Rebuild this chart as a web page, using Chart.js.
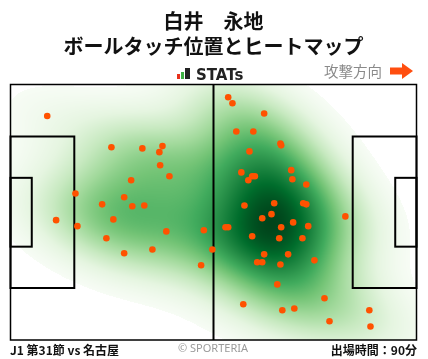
<!DOCTYPE html>
<html>
<head>
<meta charset="utf-8">
<script src="https://cdn.jsdelivr.net/npm/chart.js@4"></script>
<style>
  html, body { margin: 0; padding: 0; background: #fff; }
  #wrap { width: 428px; height: 359px; position: relative; }
</style>
</head>
<body>
<div id="wrap"><canvas id="pitch"></canvas></div>
<script>
// touch positions in metres (x: 0-105 own goal -> opponent goal, y: 0-68 bottom -> top)
const touchX = [9.5, 26.1, 34.1, 39.3, 38.5, 38.7, 41.1, 31.2, 16.8, 29.4, 23.7, 31.5, 34.6, 11.8, 26.6,
  17.3, 24.8, 40.3, 50.0, 29.4, 36.7, 52.2, 49.3, 56.3, 57.4, 65.6, 58.4, 62.8, 69.8, 70.0,
  61.8, 59.7, 72.6, 62.5, 63.2, 61.5, 72.9, 76.5, 60.5, 68.2, 75.7, 76.5, 65.1, 67.5, 86.6,
  73.1, 55.6, 56.3, 70.0, 77.0, 62.5, 69.5, 75.5, 65.6, 71.8, 63.8, 65.1, 69.8, 78.6, 69.0,
  81.2, 60.2, 70.3, 73.4, 92.8, 82.5, 93.1]
const touchY = [59.6, 51.3, 51.0, 51.6, 50.0, 46.5, 43.6, 42.5, 39.0, 38.0, 36.1, 35.6, 35.8, 31.9, 32.1,
  30.3, 27.1, 28.9, 29.2, 23.1, 24.1, 24.1, 19.9, 64.6, 63.0, 60.3, 55.5, 55.5, 52.3, 51.8,
  50.2, 44.6, 45.2, 43.6, 43.6, 42.5, 42.8, 41.4, 35.8, 36.4, 36.4, 36.1, 32.4, 33.5, 32.9,
  31.3, 30.0, 30.0, 30.0, 30.3, 27.6, 27.1, 27.1, 22.8, 22.8, 20.7, 20.7, 20.1, 21.2, 14.8,
  11.1, 9.5, 7.9, 8.4, 7.9, 5.0, 3.6]

const titleLines = ['白井　永地', 'ボールタッチ位置とヒートマップ']
const matchLabel = 'J1 第31節 vs 名古屋'
const minutesLabel = '出場時間：90分'

// matplotlib "Greens"
const greens = ['#f7fcf5', '#e5f5e0', '#c7e9c0', '#a1d99b', '#74c476', '#41ab5d', '#238b45', '#006d2c', '#00441b']
  .map(h => [parseInt(h.slice(1, 3), 16), parseInt(h.slice(3, 5), 16), parseInt(h.slice(5, 7), 16)])

const greenAt = function (t) {
  const p = Math.min(Math.max(t, 0), 1) * (greens.length - 1)
  const i = Math.min(Math.floor(p), greens.length - 2)
  const f = p - i
  const a = greens[i], b = greens[i + 1]
  return [a[0] + (b[0] - a[0]) * f, a[1] + (b[1] - a[1]) * f, a[2] + (b[2] - a[2]) * f]
}

// gaussian kde like scipy (scott factor, full covariance), bw adjusted
const makeKde = function (xs, ys, adjust) {
  const n = xs.length
  const mx = xs.reduce((s, v) => s + v, 0) / n
  const my = ys.reduce((s, v) => s + v, 0) / n
  let sxx = 0, syy = 0, sxy = 0
  for (let i = 0; i < n; i++) {
    sxx += (xs[i] - mx) ** 2
    syy += (ys[i] - my) ** 2
    sxy += (xs[i] - mx) * (ys[i] - my)
  }
  const f2 = Math.pow(n, -1 / 3) * adjust * adjust
  const a = sxx / (n - 1) * f2, d = syy / (n - 1) * f2, b = sxy / (n - 1) * f2
  const det = a * d - b * b
  const ia = d / det, id = a / det, ib = -b / det
  return function (x, y) {
    let s = 0
    for (let i = 0; i < n; i++) {
      const dx = x - xs[i], dy = y - ys[i]
      s += Math.exp(-0.5 * (ia * dx * dx + 2 * ib * dx * dy + id * dy * dy))
    }
    return s
  }
}

const heatPlugin = {
  id: 'heat',
  beforeDatasetsDraw(chart) {
    const { ctx, chartArea: area, scales } = chart
    const left = Math.round(area.left), top = Math.round(area.top)
    const w = Math.round(area.right) - left, h = Math.round(area.bottom) - top
    const kde = makeKde(touchX, touchY, 1.15)
    const vals = new Float32Array(w * h)
    let max = 0
    for (let j = 0; j < h; j++) {
      const yv = scales.y.getValueForPixel(top + j + 0.5)
      for (let i = 0; i < w; i++) {
        const v = kde(scales.x.getValueForPixel(left + i + 0.5), yv)
        vals[j * w + i] = v
        if (v > max) max = v
      }
    }
    const off = document.createElement('canvas')
    off.width = w; off.height = h
    const octx = off.getContext('2d')
    const img = octx.createImageData(w, h)
    const thresh = 0.05
    for (let k = 0; k < w * h; k++) {
      const r = vals[k] / max
      if (r < thresh) continue
      const c = greenAt((r - thresh) / (1 - thresh))
      img.data[k * 4] = c[0]
      img.data[k * 4 + 1] = c[1]
      img.data[k * 4 + 2] = c[2]
      img.data[k * 4 + 3] = 255
    }
    octx.putImageData(img, 0, 0)
    ctx.drawImage(off, left, top)

    // pitch markings
    const X = v => scales.x.getPixelForValue(v)
    const Y = v => scales.y.getPixelForValue(v)
    const box = function (x1, y1, x2, y2) {
      ctx.strokeRect(X(x1), Y(y2), X(x2) - X(x1), Y(y1) - Y(y2))
    }
    ctx.save()
    ctx.strokeStyle = '#000'
    ctx.lineWidth = 2
    box(0, 13.84, 16.5, 54.16)
    box(0, 24.84, 5.5, 43.16)
    box(88.5, 13.84, 105, 54.16)
    box(99.5, 24.84, 105, 43.16)
    ctx.beginPath()
    ctx.moveTo(X(52.5), Y(68))
    ctx.lineTo(X(52.5), Y(0))
    ctx.stroke()
    ctx.lineWidth = 1.5
    box(0, 0, 105, 68)
    ctx.restore()
  }
}

const textPlugin = {
  id: 'texts',
  afterDraw(chart) {
    const ctx = chart.ctx
    ctx.save()
    // STATs logo
    ctx.fillStyle = '#e8301c'
    ctx.fillRect(177, 74, 3, 5)
    ctx.fillStyle = '#3cb043'
    ctx.fillRect(181, 72, 3, 7)
    ctx.fillStyle = '#222'
    ctx.fillRect(185, 68, 5, 11)
    ctx.font = 'bold 15px "DejaVu Sans"'
    ctx.textBaseline = 'alphabetic'
    ctx.textAlign = 'left'
    ctx.fillText('STATs', 196, 79.5)

    // attack direction
    ctx.fillStyle = '#8a8a8a'
    ctx.font = '14.5px "Noto Sans CJK JP"'
    ctx.textBaseline = 'middle'
    ctx.fillText('攻撃方向', 324, 71)
    ctx.fillStyle = '#ff4e0f'
    ctx.beginPath()
    ctx.moveTo(390, 67.5)
    ctx.lineTo(402, 67.5)
    ctx.lineTo(402, 63)
    ctx.lineTo(413, 71)
    ctx.lineTo(402, 79)
    ctx.lineTo(402, 74.5)
    ctx.lineTo(390, 74.5)
    ctx.closePath()
    ctx.fill()

    // footer
    ctx.fillStyle = '#111'
    ctx.font = 'bold 12px "Noto Sans CJK JP"'
    ctx.fillText(matchLabel, 10, 350)
    ctx.textAlign = 'right'
    ctx.fillText(minutesLabel, 417, 350)
    ctx.textAlign = 'center'
    ctx.fillStyle = '#9a9a9a'
    ctx.font = '11px "Noto Sans"'
    ctx.fillText('© SPORTERIA', 213, 349)
    ctx.restore()
  }
}

const drawPitch = function () {
  const ctx = document.getElementById('pitch')
  const points = touchX.map((x, i) => ({ x: x, y: touchY[i] }))
  new Chart(ctx, {
    type: 'scatter',
    data: {
      datasets: [{
        label: 'touches',
        data: points,
        pointRadius: 3.3,
        pointBorderWidth: 0,
        backgroundColor: '#ff5200'
      }]
    },
    options: {
      responsive: false,
      animation: false,
      layout: { padding: { left: 10.5, right: 11.5, top: 0, bottom: 19 } },
      scales: {
        x: { type: 'linear', min: 0, max: 105, display: false },
        y: { type: 'linear', min: 0, max: 68, display: false }
      },
      plugins: {
        legend: { display: false },
        tooltip: { enabled: false },
        title: {
          display: true,
          text: titleLines,
          color: '#111',
          font: { family: '"Noto Sans CJK JP"', size: 20, weight: 'bold', lineHeight: 1.25 },
          padding: { top: 8.5, bottom: 26 }
        }
      }
    },
    plugins: [heatPlugin, textPlugin]
  })
}

document.getElementById('pitch').width = 428
document.getElementById('pitch').height = 359
drawPitch()
</script>
</body>
</html>
